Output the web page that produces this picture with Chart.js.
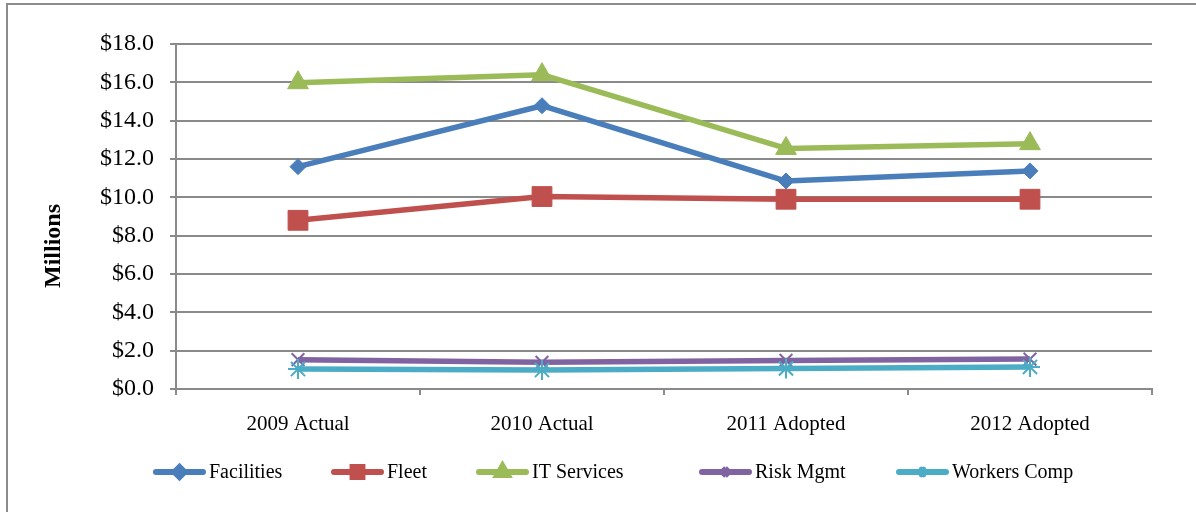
<!DOCTYPE html>
<html>
<head>
<meta charset="utf-8">
<title>Internal Service Funds</title>
<script src="https://cdn.jsdelivr.net/npm/chart.js@4/dist/chart.umd.min.js"></script>
<style>
  html, body { margin: 0; padding: 0; background: #fff; overflow: hidden; }
  canvas { display: block; }
</style>
</head>
<body>
<canvas id="chart" width="1196" height="512"></canvas>
<script>
// ==== Data (millions of dollars) ====
const categories = ['2009 Actual', '2010 Actual', '2011 Adopted', '2012 Adopted'];
const facilities = [11.6, 14.78, 10.85, 11.38];
const fleet = [8.8, 10.04, 9.9, 9.9];
const itServices = [15.98, 16.4, 12.55, 12.8];
const riskMgmt = [1.53, 1.39, 1.49, 1.56];
const workersComp = [1.04, 0.99, 1.07, 1.15];
const yMin = 0;
const yMax = 18;
const yStep = 2;

// ==== Look ====
const SERIF = '"Liberation Serif", "Times New Roman", serif';
const GRID = '#8a8a8a';

const series = [
  { label: 'Facilities',   data: facilities,  color: '#4a7ebb', style: 'rectRot',  r: 8,  lr: 5, bw: 1, lbw: 1 },
  { label: 'Fleet',        data: fleet,       color: '#c0504d', style: 'rect',     r: 14, lr: 7, bw: 1, lbw: 1 },
  { label: 'IT Services',  data: itServices,  color: '#9bbb59', style: 'triangle', r: 12, lr: 6, bw: 1, lbw: 1 },
  { label: 'Risk Mgmt',    data: riskMgmt,    color: '#8064a2', style: 'crossRot', r: 9,  lr: 5, bw: 2, lbw: 1.5 },
  { label: 'Workers Comp', data: workersComp, color: '#4bacc6', style: 'star',     r: 10, lr: 5, bw: 2, lbw: 1.2 }
];

// legend row: left edge of each entry's line sample
const legendSlots = [153, 331, 476, 699, 896];
const legendY = 472;

// ==== Frame, axis title and legend (drawn by hand) ====
const decorations = {
  id: 'decorations',
  beforeDraw(chart) {
    const ctx = chart.ctx;
    ctx.save();
    ctx.strokeStyle = '#8c8c8c';
    ctx.lineWidth = 2;
    ctx.strokeRect(7, 4, 1400, 800);
    ctx.restore();
  },
  afterDraw(chart) {
    const ctx = chart.ctx;

    ctx.save();
    ctx.translate(54, 246);
    ctx.rotate(-Math.PI / 2);
    ctx.font = 'bold 24px ' + SERIF;
    ctx.fillStyle = '#000';
    ctx.textAlign = 'center';
    ctx.textBaseline = 'middle';
    ctx.fillText('Millions', 0, 0);
    ctx.restore();

    series.forEach((s, i) => {
      const x0 = legendSlots[i];
      ctx.save();
      ctx.strokeStyle = s.color;
      ctx.fillStyle = s.color;
      ctx.lineWidth = 6;
      ctx.lineCap = 'round';
      ctx.beginPath();
      ctx.moveTo(x0 + 3, legendY);
      ctx.lineTo(x0 + 50, legendY);
      ctx.stroke();
      ctx.lineCap = 'butt';
      Chart.helpers.drawPoint(ctx, {
        pointStyle: s.style, radius: s.lr, borderWidth: s.lbw, rotation: 0
      }, x0 + 26.5, legendY);
      ctx.fillStyle = '#000';
      ctx.font = '20px ' + SERIF;
      ctx.textAlign = 'left';
      ctx.textBaseline = 'middle';
      ctx.fillText(s.label, x0 + 56, legendY + 1);
      ctx.restore();
    });
  }
};

// ==== Chart ====
new Chart(document.getElementById('chart').getContext('2d'), {
  type: 'line',
  data: {
    labels: categories,
    datasets: series.map((s, i) => ({
      label: s.label,
      data: s.data,
      borderColor: s.color,
      backgroundColor: s.color,
      borderWidth: 5.5,
      borderJoinStyle: 'round',
      tension: 0,
      fill: false,
      pointStyle: s.style,
      pointRadius: s.r,
      pointHoverRadius: s.r,
      pointBorderWidth: s.bw,
      pointBackgroundColor: s.color,
      pointBorderColor: s.color,
      order: series.length - i
    }))
  },
  options: {
    responsive: false,
    animation: false,
    layout: { padding: { left: 0, top: 44, right: 44, bottom: 63 } },
    plugins: {
      legend: { display: false },
      tooltip: { enabled: false }
    },
    scales: {
      x: {
        offset: true,
        grid: {
          offset: true,
          drawOnChartArea: false,
          drawTicks: true,
          tickLength: 6,
          color: GRID,
          lineWidth: 2
        },
        border: { color: GRID, width: 2 },
        ticks: {
          color: '#000',
          font: { family: SERIF, size: 21 },
          padding: 17,
          maxRotation: 0
        },
        afterFit: (scale) => { scale.height = 60; }
      },
      y: {
        min: yMin,
        max: yMax,
        grid: { color: GRID, lineWidth: 2, tickLength: 6 },
        border: { color: GRID, width: 2 },
        ticks: {
          stepSize: yStep,
          color: '#000',
          font: { family: SERIF, size: 24 },
          padding: 16,
          callback: (v) => '$' + Number(v).toFixed(1)
        },
        afterFit: (scale) => { scale.width = 176; }
      }
    }
  },
  plugins: [decorations]
});
</script>
</body>
</html>
